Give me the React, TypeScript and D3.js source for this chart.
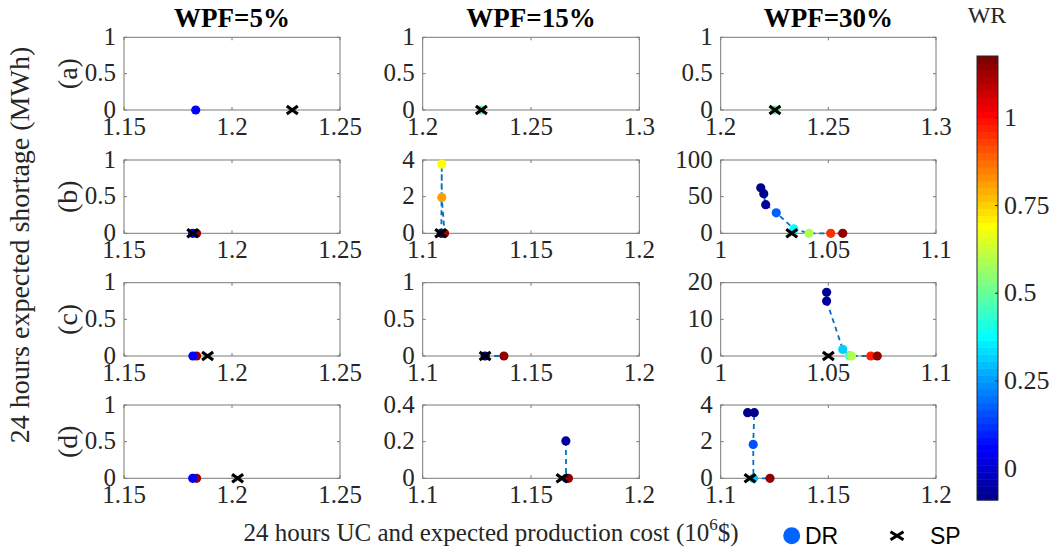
import React from 'react';
import * as d3 from 'd3';

// ---- data -------------------------------------------------------------
const columnTitles = ['WPF=5%', 'WPF=15%', 'WPF=30%'];
const rowLabels = ['(a)', '(b)', '(c)', '(d)'];

// axis limits, [row][column]
const xDomains: number[][][] = [
  [[1.15, 1.25], [1.2, 1.3], [1.2, 1.3]],
  [[1.15, 1.25], [1.1, 1.2], [1.0, 1.1]],
  [[1.15, 1.25], [1.1, 1.2], [1.0, 1.1]],
  [[1.15, 1.25], [1.1, 1.2], [1.1, 1.2]],
];
const yDomains: number[][][] = [
  [[0, 1], [0, 1], [0, 1]],
  [[0, 1], [0, 4], [0, 100]],
  [[0, 1], [0, 1], [0, 20]],
  [[0, 1], [0, 0.4], [0, 4]],
];

// DR solutions: [cost (10^6 $), expected shortage (MWh), WR]
const drA5 = [[1.1832, 0, 0.06]];
const drA15 = [[1.2271, 0, 0.5]];
const drA30 = [[1.2252, 0, 0.5]];

const drB5 = [[1.1836, 0, 1.15], [1.1818, 0, 0.06]];
const drB15 = [[1.1086, 0, -0.08], [1.1088, 3.78, 0.69], [1.1088, 1.96, 0.81], [1.1101, 0, 1.13]];
const drB30 = [
  [1.0186, 62, -0.085], [1.02, 54, -0.07], [1.0209, 39, -0.05], [1.0258, 28, 0.17],
  [1.034, 6, 0.38], [1.041, 0, 0.6], [1.0511, 0, 0.95], [1.0567, 0, 1.15],
];

const drC5 = [[1.1836, 0, 1.15], [1.1819, 0, 0.06]];
const drC15 = [[1.1288, 0, -0.05], [1.1375, 0, 1.15]];
const drC30 = [
  [1.0492, 17.4, -0.08], [1.0492, 15.0, -0.06], [1.0567, 1.8, 0.32], [1.0598, 0.1, 0.45],
  [1.0608, 0, 0.6], [1.0697, 0, 0.96], [1.0727, 0, 1.15],
];

const drD5 = [[1.1836, 0, 1.15], [1.1818, 0, 0.06]];
const drD15 = [[1.1661, 0.204, -0.06], [1.1662, 0, 0.2], [1.1673, 0, 1.15]];
const drD30 = [
  [1.1125, 3.58, -0.085], [1.1156, 3.58, -0.07], [1.1151, 1.85, 0.15], [1.1152, 0, 0.3],
  [1.1229, 0, 1.15],
];

// SP solutions: [cost (10^6 $), expected shortage (MWh)]
const spA = [[1.2279, 0], [1.2271, 0], [1.2252, 0]];
const spB = [[1.1818, 0], [1.1083, 0], [1.033, 0]];
const spC = [[1.1887, 0], [1.1288, 0], [1.05, 0]];
const spD = [[1.2026, 0], [1.1643, 0], [1.1136, 0]];

const drRows = [
  [drA5, drA15, drA30],
  [drB5, drB15, drB30],
  [drC5, drC15, drC30],
  [drD5, drD15, drD30],
];
const spRows = [spA, spB, spC, spD];

// WR colour limits and colorbar ticks
const wrDomain = [-0.089, 1.176];
const wrTicks = [0, 0.25, 0.5, 0.75, 1];

// ---- jet colormap (64 levels) ------------------------------------------
function jetMap(m: number): string[] {
  const n = Math.ceil(m / 4);
  const u: number[] = [];
  for (let i = 1; i <= n; i++) u.push(i / n);
  for (let i = 1; i < n; i++) u.push(1);
  for (let i = n; i >= 1; i--) u.push(i / n);
  const g0 = Math.ceil(n / 2) - (m % 4 === 1 ? 1 : 0);
  const rgb = Array.from({ length: m }, () => [0, 0, 0]);
  u.forEach((val, k) => {
    const g = g0 + k + 1;
    const r = g + n;
    const b = g - n;
    if (r <= m) rgb[r - 1][0] = val;
    if (g >= 1 && g <= m) rgb[g - 1][1] = val;
    if (b >= 1) rgb[b - 1][2] = val;
  });
  return rgb.map(([r, g, b]) => d3.rgb(r * 255, g * 255, b * 255).formatHex());
}
const JET = jetMap(64);
const wrColor = (v: number) => {
  const t = (v - wrDomain[0]) / (wrDomain[1] - wrDomain[0]);
  const i = Math.max(0, Math.min(63, Math.floor(t * 64)));
  return JET[i];
};

// ---- layout -------------------------------------------------------------
const W = 1054;
const H = 552;
const colX = [[124, 340], [422.7, 639.3], [720.7, 936]];
const rowY = [[37.3, 110], [160, 233.3], [282.7, 356], [405, 478.3]];
const SERIF = '"Liberation Serif", "Times New Roman", serif';
const SANS = '"Liberation Sans", Arial, sans-serif';
const AXIS = '#262626';
const FRAME = '#7a7a7a';
const LINE = '#0072BD';
const TICK = 3;
const TICK_FONT = 25;

const fmt = d3.format('~g');

function XMark({ x, y, hw, hh, sw }: { x: number; y: number; hw: number; hh: number; sw: number }) {
  return (
    <path
      d={`M${x - hw},${y - hh}L${x + hw},${y + hh}M${x - hw},${y + hh}L${x + hw},${y - hh}`}
      stroke="#000"
      strokeWidth={sw}
      fill="none"
    />
  );
}

function Panel({ r, c }: { r: number; c: number }) {
  const [x0, x1] = colX[c];
  const [y0, y1] = rowY[r];
  const xs = d3.scaleLinear().domain(xDomains[r][c]).range([x0, x1]);
  const ys = d3.scaleLinear().domain(yDomains[r][c]).range([y1, y0]);
  const xt = xs.ticks(2);
  const yt = ys.ticks(2);
  const dr = drRows[r][c];
  const sp = spRows[r][c];
  const line = d3
    .line<number[]>()
    .x((d) => xs(d[0]))
    .y((d) => ys(d[1]));
  return (
    <g>
      <rect x={x0} y={y0} width={x1 - x0} height={y1 - y0} fill="#fff" stroke={FRAME} strokeWidth={1} />
      {xt.map((t, i) => (
        <g key={'x' + i}>
          <line x1={xs(t)} x2={xs(t)} y1={y1} y2={y1 - TICK} stroke={FRAME} />
          <line x1={xs(t)} x2={xs(t)} y1={y0} y2={y0 + TICK} stroke={FRAME} />
          <text x={xs(t)} y={y1 + 25} textAnchor="middle" fontFamily={SERIF} fontSize={TICK_FONT} fill={AXIS}>
            {fmt(t)}
          </text>
        </g>
      ))}
      {yt.map((t, i) => (
        <g key={'y' + i}>
          <line x1={x0} x2={x0 + TICK} y1={ys(t)} y2={ys(t)} stroke={FRAME} />
          <line x1={x1} x2={x1 - TICK} y1={ys(t)} y2={ys(t)} stroke={FRAME} />
          <text x={x0 - 8} y={ys(t) + 7.5} textAnchor="end" fontFamily={SERIF} fontSize={TICK_FONT} fill={AXIS}>
            {fmt(t)}
          </text>
        </g>
      ))}
      {dr.length > 1 && (
        <path d={line(dr) || ''} fill="none" stroke={LINE} strokeWidth={1.8} strokeDasharray="5 4" />
      )}
      {dr.map((d, i) => (
        <circle key={'d' + i} cx={xs(d[0])} cy={ys(d[1])} r={4.6} fill={wrColor(d[2])} />
      ))}
      <XMark x={xs(sp[0])} y={ys(sp[1])} hw={5.5} hh={4} sw={3.2} />
    </g>
  );
}

function Colorbar() {
  const x0 = 977;
  const x1 = 998;
  const cs = d3.scaleLinear().domain(wrDomain).range([500, 56]);
  const steps = d3.range(64);
  const stepH = (cs(wrDomain[0]) - cs(wrDomain[1])) / 64;
  return (
    <g>
      {steps.map((i) => (
        <rect key={i} x={x0} y={500 - (i + 1) * stepH} width={x1 - x0} height={stepH + 0.5} fill={JET[i]} />
      ))}
      <rect x={x0} y={56} width={x1 - x0} height={444} fill="none" stroke={AXIS} strokeWidth={1} />
      {wrTicks.map((t) => (
        <g key={t}>
          <line x1={x1} x2={x1 - TICK} y1={cs(t)} y2={cs(t)} stroke={AXIS} />
          <text x={1004} y={cs(t) + 8} fontFamily={SERIF} fontSize={26} fill={AXIS}>
            {fmt(t)}
          </text>
        </g>
      ))}
      <text x={987} y={23} textAnchor="middle" fontFamily={SERIF} fontSize={24} fill={AXIS}>
        WR
      </text>
    </g>
  );
}

export default function App() {
  return (
    <svg width={W} height={H} style={{ position: 'absolute', left: 0, top: 0, background: '#fff' }}>
      <rect width={W} height={H} fill="#fff" />
      {columnTitles.map((t, c) => (
        <text
          key={t}
          x={(colX[c][0] + colX[c][1]) / 2}
          y={27}
          textAnchor="middle"
          fontFamily={SERIF}
          fontWeight="bold"
          fontSize={27}
          fill="#000"
        >
          {t}
        </text>
      ))}
      {rowLabels.map((t, r) => (
        <text
          key={t}
          transform={`translate(77,${(rowY[r][0] + rowY[r][1]) / 2}) rotate(-90)`}
          textAnchor="middle"
          fontFamily={SERIF}
          fontSize={28}
          fill={AXIS}
        >
          {t}
        </text>
      ))}
      {rowY.map((_, r) => colX.map((__, c) => <Panel key={`${r}-${c}`} r={r} c={c} />))}
      <text
        transform={`translate(29,245) rotate(-90)`}
        textAnchor="middle"
        fontFamily={SERIF}
        fontSize={28}
        fill={AXIS}
      >
        24 hours expected shortage (MWh)
      </text>
      <text x={491} y={541} textAnchor="middle" fontFamily={SERIF} fontSize={25} fill={AXIS}>
        24 hours UC and expected production cost (10
        <tspan fontSize={17} dy={-11}>6</tspan>
        <tspan dy={11}>$)</tspan>
      </text>
      <Colorbar />
      {/* legend */}
      <circle cx={791.7} cy={535.7} r={8.5} fill="#0064ff" />
      <text x={805} y={544} fontFamily={SANS} fontSize={23} fill="#000">
        DR
      </text>
      <XMark x={897} y={535.7} hw={6.5} hh={4} sw={3} />
      <text x={930} y={544} fontFamily={SANS} fontSize={23} fill="#000">
        SP
      </text>
    </svg>
  );
}
